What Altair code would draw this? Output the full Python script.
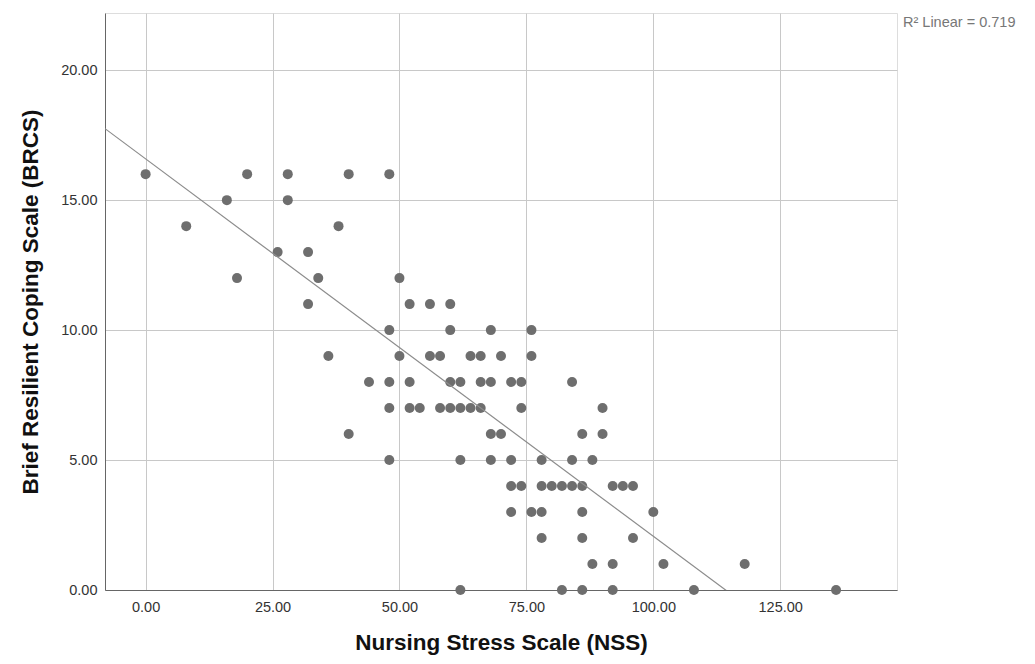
import altair as alt
import pandas as pd

# Nursing Stress Scale (x) and Brief Resilient Coping Scale (y) per respondent
nss_scores = [
    0, 20, 28, 40, 48,
    16, 28,
    8, 38,
    26, 32,
    18, 34, 50,
    32, 52, 56, 60,
    48, 60, 68, 76,
    36, 50, 56, 58, 64, 66, 70, 76,
    44, 48, 52, 60, 62, 66, 68, 72, 74, 84,
    48, 52, 54, 58, 60, 62, 64, 66, 74, 90,
    40, 68, 70, 86, 90,
    48, 62, 68, 72, 78, 84, 88,
    72, 74, 78, 80, 82, 84, 86, 92, 94, 96,
    72, 76, 78, 86, 100,
    78, 86, 96,
    88, 92, 102, 118,
    62, 82, 86, 92, 108, 136,
]
brcs_scores = (
    [16] * 5 + [15] * 2 + [14] * 2 + [13] * 2 + [12] * 3 + [11] * 4 + [10] * 4
    + [9] * 8 + [8] * 10 + [7] * 10 + [6] * 5 + [5] * 7 + [4] * 10 + [3] * 5
    + [2] * 3 + [1] * 4 + [0] * 6
)
x_ticks = [0, 25, 50, 75, 100, 125]
y_ticks = [0, 5, 10, 15, 20]
r2_label = ["R\u00b2 Linear = 0.719"]

df = pd.DataFrame({"nss": nss_scores, "brcs": brcs_scores})
ann = pd.DataFrame({"label": r2_label})

W, H = 792, 577
FONT = "Liberation Sans"

xscale = alt.Scale(domain=[-8, 148], nice=False, zero=False)
yscale = alt.Scale(domain=[0, 22.2], nice=False, zero=False)

xaxis = alt.Axis(
    title="Nursing Stress Scale (NSS)", values=x_ticks, format=".2f",
    grid=True, gridColor="#c8c8c8", ticks=False, domainColor="#666666",
    labelColor="#333333", labelFontSize=14.5, labelPadding=10, labelFont=FONT,
    titleFont=FONT, titleFontSize=22.5, titleFontWeight="bold", titleColor="#111111",
    titlePadding=18,
)
yaxis = alt.Axis(
    title="Brief Resilient Coping Scale (BRCS)", values=y_ticks, format=".2f",
    grid=True, gridColor="#c8c8c8", ticks=False, domainColor="#666666",
    labelColor="#333333", labelFontSize=14.5, labelPadding=8, labelFont=FONT,
    titleFont=FONT, titleFontSize=22.5, titleFontWeight="bold", titleColor="#111111",
    titlePadding=18,
)

points = alt.Chart(df).mark_circle(size=100, color="#6e6e6e", opacity=1).encode(
    x=alt.X("nss:Q", scale=xscale, axis=xaxis),
    y=alt.Y("brcs:Q", scale=yscale, axis=yaxis),
)

fit = alt.Chart(df).transform_regression(
    "nss", "brcs", extent=[-8, 148]
).mark_line(color="#8c8c8c", strokeWidth=1.2, clip=True).encode(
    x=alt.X("nss:Q", scale=xscale),
    y=alt.Y("brcs:Q", scale=yscale),
)

note = alt.Chart(ann).mark_text(
    align="left", baseline="middle", fontSize=14.5, font=FONT, color="#777777"
).encode(
    text="label:N",
    x=alt.value(W + 6),
    y=alt.value(10),
)

chart = alt.layer(points, fit, note).properties(
    width=W, height=H,
    autosize=alt.AutoSizeParams(type="none"),
    padding={"left": 97, "top": 5, "right": 130, "bottom": 66},
).configure_view(stroke=None).configure(background="white")

chart.save("out.html", embed_options={"renderer": "svg", "actions": False})
